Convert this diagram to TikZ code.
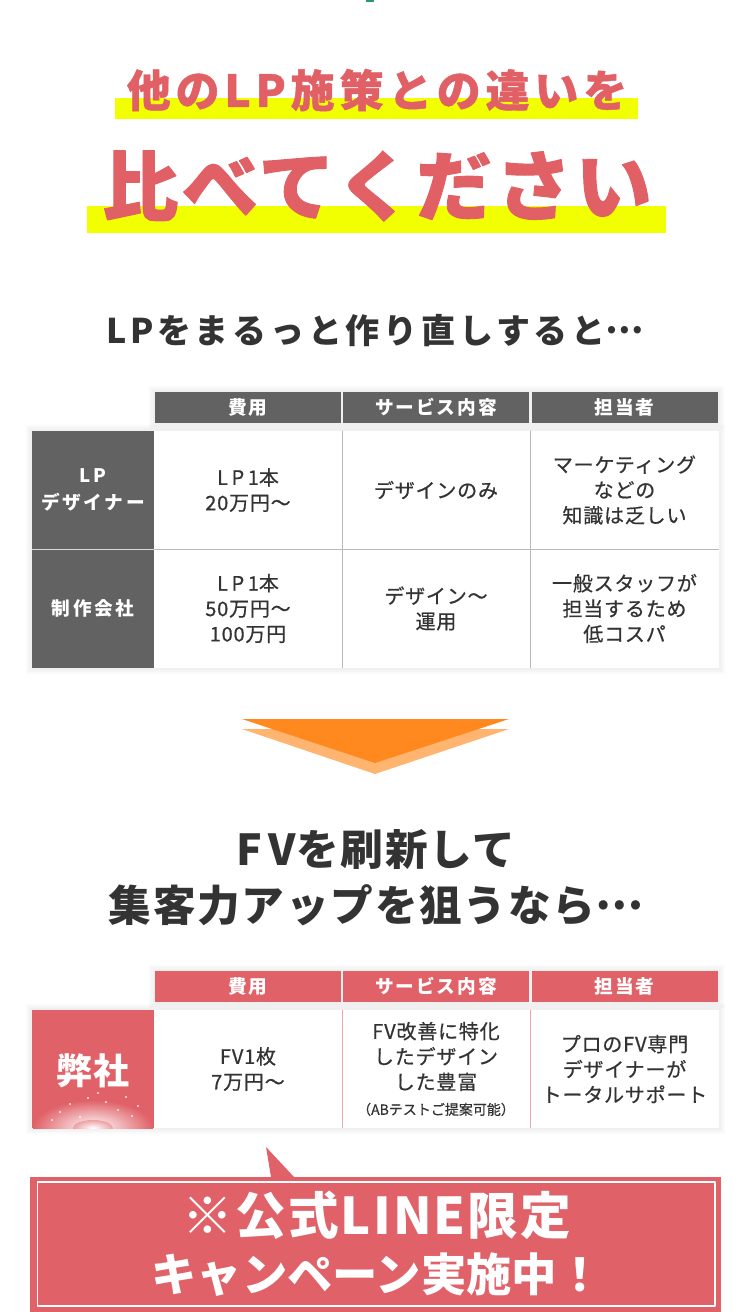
\documentclass[tikz,border=0pt]{standalone}
\usepackage{fontspec}
\setmainfont{Noto Sans CJK JP}
\usetikzlibrary{positioning}
\definecolor{titlered}{RGB}{224,96,102}
\definecolor{markyellow}{RGB}{242,255,0}
\definecolor{headgray}{RGB}{98,98,98}
\definecolor{tablered}{RGB}{224,97,104}
\definecolor{textgray}{RGB}{51,51,51}
\definecolor{arroworange}{RGB}{255,137,30}
\definecolor{arrowlight}{RGB}{255,180,112}
\definecolor{linegray}{RGB}{185,185,185}
\definecolor{linepink}{RGB}{236,168,172}
\definecolor{topgreen}{RGB}{40,150,110}

\newcommand{\headfont}{\bfseries\fontsize{14}{16}\selectfont\addfontfeature{LetterSpace=10}}
\newcommand{\cellfont}{\fontsize{15}{19}\selectfont\addfontfeature{LetterSpace=4,FakeBold=0.6}}
\newcommand{\labelfont}{\bfseries\fontsize{14}{20}\selectfont\addfontfeature{LetterSpace=14}}
\newcommand{\middots}{\raisebox{0.3em}{…}}

\tikzset{
  base/.style={inner sep=0pt, outer sep=0pt, align=center},
  headcell/.style={base, fill=headgray, text=white, minimum width=139.5pt, minimum height=23.25pt, font=\headfont},
  bodycell/.style={base, fill=white, text=textgray, minimum width=141pt, minimum height=88.5pt, font=\cellfont},
  labelcell/.style={base, fill=headgray, text=white, minimum width=91.5pt, minimum height=88.5pt, font=\labelfont},
  bigtitle/.style={base, text=titlered, font=\bfseries},
  subtitle/.style={base, text=textgray, font=\bfseries},
}

\begin{document}
\begin{tikzpicture}[line cap=round,line join=round,x=0.75pt,y=-0.75pt]
    \useasboundingbox (0,0) rectangle (750,1312);
    \fill[topgreen] (366,0) rectangle (374,2.5);

    % headline
    \fill[markyellow] (115,98) rectangle (638,119);
    \fill[markyellow] (87,206) rectangle (666,233);
    \node[bigtitle] (title1) at (377,90) {\fontsize{33}{36}\selectfont\addfontfeature{LetterSpace=11,FakeBold=1}他のLP施策との違いを};
    \node[bigtitle] (title2) at (377,186) {\fontsize{57}{60}\selectfont\addfontfeature{LetterSpace=5,FakeBold=1.2}比べてください};

    \node[subtitle] (lead1) at (375,331) {\fontsize{25.5}{28}\selectfont\addfontfeature{LetterSpace=11}LPをまるっと作り直しすると\middots};

    % first table
    \foreach \d in {2,4,6}
    \fill[black,fill opacity=0.02] (155-\d,392-\d) rectangle (718+\d,423+\d);
    \foreach \d in {2,4,6}
    \fill[black,fill opacity=0.02] (32-\d,431-\d) rectangle (719+\d,668+\d);
    \foreach \name/\xc/\txt in {A/248/費用,B/436/サービス内容,C/624.5/担当者}
    \node[headcell] (head\name) at (\xc,407.5) {\txt};
    \node[labelcell] (labA) at (93,490) {LP\\デザイナー};
    \node[labelcell] (labB) at (93,608.5) {制作会社};
    \node[bodycell] (cellA1) at (248,490) {{\addfontfeature{LetterSpace=18}LP1}本\\20万円～};
    \node[bodycell] (cellB1) at (436,490) {デザインのみ};
    \node[bodycell] (cellC1) at (624.5,490) {マーケティング\\などの\\知識は乏しい};
    \node[bodycell] (cellA2) at (248,608.5) {{\addfontfeature{LetterSpace=18}LP1}本\\50万円～\\100万円};
    \node[bodycell] (cellB2) at (436,608.5) {デザイン～\\運用};
    \node[bodycell] (cellC2) at (624.5,608.5) {一般スタッフが\\担当するため\\低コスパ};
    \draw[color=linegray] (cellA1.north east) -- (cellA2.south east);
    \draw[color=linegray] (cellB1.north east) -- (cellB2.south east);
    \draw[color=linegray] (cellA1.south west) -- (cellC1.south east);
    \draw[color=white!75!headgray] (labA.south west) -- (labA.south east);

    % arrow
    \fill[arrowlight] (242,729) -- (509,729) -- (375,774) -- cycle;
    \fill[arroworange] (242,719) -- (509,719) -- (375,763) -- cycle;

    \node[subtitle,font=\bfseries\fontsize{32}{42}\selectfont\addfontfeature{LetterSpace=4}] (lead2) at (376,878) {{\addfontfeature{LetterSpace=16}FV}を刷新して\\集客力アップを狙うなら\middots};

    % second table
    \foreach \d in {2,4,6}
    \fill[black,fill opacity=0.02] (155-\d,971-\d) rectangle (718+\d,1002+\d);
    \foreach \d in {2,4,6}
    \fill[black,fill opacity=0.02] (32-\d,1010-\d) rectangle (719+\d,1128+\d);
    \foreach \name/\xc/\txt in {A/248/費用,B/436/サービス内容,C/624.5/担当者}
    \node[headcell,fill=tablered] (redhead\name) at (\xc,986.5) {\txt};
    \node[labelcell,fill=tablered] (labOurs) at (93,1069) {};
    \begin{scope}
    \clip (labOurs.south west) rectangle (labOurs.north east);
    \shade[inner color=white, outer color=tablered] (93,1128) ellipse (60 and 28);
    \shade[inner color=white, outer color=white!40!tablered] (93,1128) ellipse (20 and 8);
    \foreach \px/\py in {60/1112,70/1104,80/1117,106/1102,118/1110,126/1097,98/1093,88/1098,132/1116,52/1120,138/1106}
    \fill[white,opacity=0.85] (\px,\py) circle (1.1);
    \end{scope}
    \node[base,text=white,font=\bfseries\fontsize{27}{30}\selectfont\addfontfeature{LetterSpace=5}] (ours) at (93,1071) {弊社};
    \node[bodycell] (redcellA) at (248,1069) {FV1枚\\7万円～};
    \node[bodycell] (redcellB) at (436,1069) {FV改善に特化\\したデザイン\\した豊富\\{\fontsize{10.5}{14}\selectfont\addfontfeature{LetterSpace=0}（ABテストご提案可能）}};
    \node[bodycell] (redcellC) at (624.5,1069) {プロのFV専門\\デザイナーが\\トータルサポート};
    \draw[color=linepink] (redcellA.north east) -- (redcellA.south east);
    \draw[color=linepink] (redcellB.north east) -- (redcellB.south east);

    % campaign balloon
    \node[base,fill=tablered,minimum width=518.25pt,minimum height=101.25pt] (campaign) at (375.5,1244.5) {};
    \coordinate (tip) at (266,1147);
    \fill[tablered] (tip) -- ([xshift=-3pt]campaign.north -| 298,0) -- ([xshift=0pt]campaign.north -| 271,0) -- cycle;
    \draw[white,line width=1.1pt] ([xshift=5.6pt,yshift=-3.75pt]campaign.north west) rectangle ([xshift=-4.5pt,yshift=4.5pt]campaign.south east);
    \node[base,text=white,font=\bfseries\fontsize{36}{43}\selectfont] (campaigntext) at (377,1243.5) {{\fontsize{38}{43}\selectfont\addfontfeature{LetterSpace=4}※公式LINE限定}\\{\fontsize{34}{43}\selectfont キャンペーン実施中！}};
\end{tikzpicture}
\end{document}
